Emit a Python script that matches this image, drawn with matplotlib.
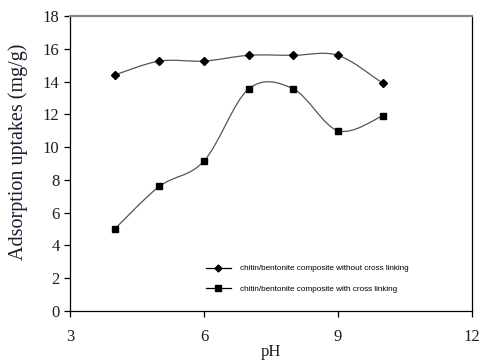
import numpy as np
import matplotlib
matplotlib.use('Agg')
import matplotlib.pyplot as plt
from matplotlib.path import Path
from matplotlib.patches import PathPatch
from matplotlib.lines import Line2D

#%% Datos

pH = [4, 5, 6, 7, 8, 9, 10]
sin_entrecruzado = [14.4, 15.25, 15.25, 15.6, 15.6, 15.6, 13.9]
con_entrecruzado = [5.0, 7.6, 9.15, 13.55, 13.55, 11.0, 11.9]

lbl_sin = 'chitin/bentonite composite without cross linking'
lbl_con = 'chitin/bentonite composite with cross linking'


def curva_suave(x, y):
    # linea suavizada tipo Excel (Bezier con tangentes de Catmull-Rom)
    x = np.asarray(x, float)
    y = np.asarray(y, float)
    n = len(x)
    verts = [(x[0], y[0])]
    codes = [Path.MOVETO]
    for i in range(n - 1):
        i0 = max(i - 1, 0)
        i3 = min(i + 2, n - 1)
        c1 = (x[i] + (x[i + 1] - x[i0]) / 6.0, y[i] + (y[i + 1] - y[i0]) / 6.0)
        c2 = (x[i + 1] - (x[i3] - x[i]) / 6.0, y[i + 1] - (y[i3] - y[i]) / 6.0)
        verts += [c1, c2, (x[i + 1], y[i + 1])]
        codes += [Path.CURVE4] * 3
    return Path(verts, codes)


serif = 'Liberation Serif'
col_txt = '#1c1c30'

fig = plt.figure(figsize=(4.83, 3.62), dpi=100)
ax = fig.add_axes([70 / 483, 1 - 311 / 362, 402 / 483, 295 / 362])

for yy in (sin_entrecruzado, con_entrecruzado):
    ax.add_patch(PathPatch(curva_suave(pH, yy), fc='none', ec='#555555', lw=0.9))

ax.plot(pH, sin_entrecruzado, linestyle='None', marker='D', ms=4.5, color='k')
ax.plot(pH, con_entrecruzado, linestyle='None', marker='s', ms=5, color='k')

ax.set_xlim(3, 12)
ax.set_ylim(0, 18)
ax.set_xticks([3, 6, 9, 12])
ax.set_yticks(np.arange(0, 19, 2))

for s in ('left', 'bottom', 'right'):
    ax.spines[s].set_color('k')
    ax.spines[s].set_linewidth(0.9)
ax.spines['top'].set_color('#888888')
ax.spines['top'].set_linewidth(1.6)

ax.tick_params(axis='both', direction='out', length=4, width=0.9, colors='k',
               labelcolor=col_txt, labelsize=12)
ax.tick_params(axis='x', pad=9)
for t in ax.get_xticklabels() + ax.get_yticklabels():
    t.set_fontfamily(serif)

ax.set_xlabel('pH', fontfamily=serif, fontsize=12, color=col_txt)
ax.xaxis.set_label_coords(0.5, -0.113)
ax.set_ylabel('Adsorption uptakes (mg/g)', fontfamily=serif, fontsize=14.5,
              color=col_txt)
ax.yaxis.set_label_coords(-0.105, 0.539)

h1 = Line2D([], [], color='k', lw=0.9, marker='D', ms=3.5)
h2 = Line2D([], [], color='k', lw=0.9, marker='s', ms=4.5)
leg = ax.legend([h1, h2], [lbl_sin, lbl_con], loc='lower left',
                bbox_to_anchor=(0.32, 0.035), frameon=False, handlelength=3.0,
                handletextpad=1.1, labelspacing=1.6,
                prop={'family': 'Liberation Sans', 'size': 5.9})

fig.savefig('out.png', dpi=100)
